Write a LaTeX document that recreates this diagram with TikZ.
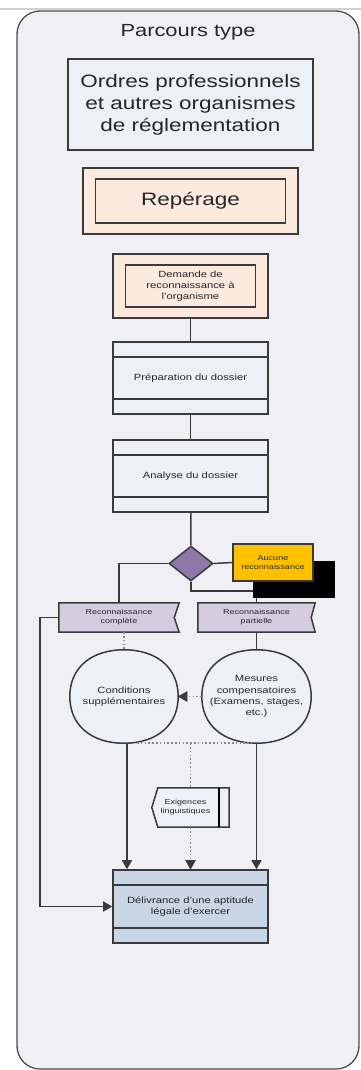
\documentclass[tikz,border=0pt]{standalone}
\usepackage{fontspec}
\setmainfont[FakeStretch=1.25]{Liberation Sans}
\usetikzlibrary{shapes.geometric,arrows.meta,calc}

\definecolor{panel}{HTML}{F0EFF4}
\definecolor{edge}{HTML}{3A3A3A}
\definecolor{pale}{HTML}{EDF1F7}
\definecolor{peach}{HTML}{FCEADF}
\definecolor{lavender}{HTML}{D4CDE0}
\definecolor{violet}{HTML}{8F78A9}
\definecolor{gold}{HTML}{FFC000}
\definecolor{steel}{HTML}{C8D6E6}
\definecolor{ink}{HTML}{262626}
\definecolor{dotgray}{HTML}{8A8A8A}

\newcommand\setsz[2]{\fontsize{#1}{#2}\selectfont}
% rounded "soft" outline through the four side midpoints of a node
\newcommand\softblob[1]{%
  \draw[draw=edge, line width=1.5, fill=pale]
    (#1.north) .. controls ($(#1.north)!0.61!(#1.north east)$) and ($(#1.east)!0.61!(#1.north east)$) .. (#1.east)
    .. controls ($(#1.east)!0.61!(#1.south east)$) and ($(#1.south)!0.61!(#1.south east)$) .. (#1.south)
    .. controls ($(#1.south)!0.61!(#1.south west)$) and ($(#1.west)!0.61!(#1.south west)$) .. (#1.west)
    .. controls ($(#1.west)!0.61!(#1.north west)$) and ($(#1.north)!0.61!(#1.north west)$) .. (#1.north) -- cycle;}

\tikzset{
  frame/.style={draw=edge, line width=1.6, inner sep=0, align=center, text=ink},
  bigtext/.style={font=\setsz{18}{22}},
  smalltext/.style={font=\setsz{9}{11.3}},
  tinytext/.style={font=\setsz{7.2}{9.2}},
  link/.style={draw=edge, line width=1.5},
  arrowlink/.style={link, -{Triangle[length=9pt,width=10pt]}},
  dotlink/.style={draw=dotgray, line width=1.7, dash pattern=on 1.6 off 2.2},
  label/.style={inner sep=0, align=center, text=ink},
}

\begin{document}
\begin{tikzpicture}[x=1pt,y=-1pt]
\useasboundingbox (0,0) rectangle (361,1070);

% page rule and rounded panel
\draw[gray!35, line width=2] (0,9.5) -- (361,9.5);
\draw[draw=gray!60!black, fill=panel, line width=1.3, rounded corners=23]
  (17,11) rectangle (359,1069);

\node[label, font=\setsz{17.5}{21}] (title) at (188,32) {Parcours type};

% header boxes
\node[frame, fill=pale, bigtext, minimum width=245, minimum height=91]
  (ordres) at (190.5,104.5) {Ordres professionnels\\et autres organismes\\de réglementation};

\node[frame, fill=peach, minimum width=215, minimum height=66] (reperage) at (190.5,201) {};
\node[frame, fill=peach, bigtext, minimum width=190, minimum height=44] at (reperage) {Repérage};

% request box
\node[frame, fill=peach, minimum width=155, minimum height=64] (demande) at (190.5,286) {};
\node[frame, fill=peach, smalltext, minimum width=130, minimum height=42] at (demande)
  {Demande de\\reconnaissance à\\l’organisme};

% process boxes with bands
\node[frame, fill=pale, smalltext, minimum width=155, minimum height=72]
  (prep) at (190.5,378) {Préparation du dossier};
\node[frame, fill=pale, smalltext, minimum width=155, minimum height=72]
  (analyse) at (190.5,476) {Analyse du dossier};
\node[frame, fill=steel, smalltext, minimum width=155, minimum height=73]
  (delivrance) at (190.5,906.5) {Délivrance d’une aptitude\\légale d’exercer};
\foreach \b in {prep,analyse,delivrance}{
  \draw[edge, line width=1.5] ([yshift=-16]\b.north west) -- ([yshift=-16]\b.north east);
  \draw[edge, line width=1.5] ([yshift=16]\b.south west) -- ([yshift=16]\b.south east);
}

% decision
\node[draw=edge, line width=1.5, fill=violet, shape=diamond, inner sep=0,
  minimum width=44, minimum height=35] (dia) at (191,563.5) {};

% recognition tags (notched right edge)
\node[label, minimum width=120, minimum height=29] (complete) at (119,617.5) {};
\node[label, minimum width=117, minimum height=29] (partielle) at (256.5,617.5) {};
\foreach \t/\d in {complete/5,partielle/4}{
  \draw[draw=edge, line width=1.5, fill=lavender]
    (\t.north west) -- (\t.north east) -- ([xshift=-\d]\t.east) -- (\t.south east)
    -- (\t.south west) -- cycle;
}
\node[label, tinytext] at (complete) {Reconnaissance\\complète};
\node[label, tinytext] at (partielle) {Reconnaissance\\partielle};

% outcome shapes
\node[label, minimum width=108, minimum height=93] (conditions) at (124,696.5) {};
\node[label, minimum width=109, minimum height=93] (mesures) at (256.5,696.5) {};
\softblob{conditions}
\softblob{mesures}
\node[label, smalltext] at (conditions) {Conditions\\supplémentaires};
\node[label, smalltext] at (mesures) {Mesures\\compensatoires\\(Examens, stages,\\etc.)};

% language requirement display shape
\node[label, minimum width=77, minimum height=39] (exig) at (190.5,807.5) {};
\draw[draw=edge, line width=1.5, fill=pale]
  ([xshift=6]exig.north west) -- (exig.north east) -- (exig.south east)
  -- ([xshift=6]exig.south west) -- (exig.west) -- cycle;
\draw[draw=black, line width=1.5] ([xshift=-10]exig.north east) -- ([xshift=-10]exig.south east);
\node[label, tinytext] at ([xshift=-5]exig.center) {Exigences\\linguistiques};

% flow connectors
\draw[link] (demande) -- (prep);
\draw[link] (prep) -- (analyse);
\draw[link] (analyse) -- (dia.north);
\draw[link] (dia.west) -| (complete.north);
\draw[link] (dia.south) -- ++(0,9) -| (partielle.north);
\draw[link] (partielle.south) -- (mesures.north);
\draw[dotlink] (conditions.north |- complete.south) -- (conditions.north);

% no recognition: shadow then box
\node[fill=black, minimum width=82, minimum height=37, inner sep=0] (shadow) at (294,579.5) {};
\node[frame, line width=1.5, fill=gold, tinytext, minimum width=80, minimum height=37]
  (aucune) at (273,562.5) {Aucune\\reconnaissance};
\draw[link] (dia.east) -- (aucune.west);

% toward the final box
\draw[arrowlink] (complete.west) -- ++(-19,0) |- (delivrance.west);
\draw[dotlink] (mesures.west) -- ([xshift=8]conditions.east);
\draw[draw=edge, fill=edge] (conditions.east) -- ++(9,-5) -- ++(0,10) -- cycle;
\draw[arrowlink] ([xshift=3]conditions.south) -- ([xshift=3]conditions.south |- delivrance.north);
\draw[arrowlink] (mesures.south) -- (mesures.south |- delivrance.north);
\draw[dotlink] ([xshift=13]conditions.south) -- ([xshift=-5]mesures.south);
\draw[dotlink] (exig.north |- conditions.south) -- (exig.north);
\draw[dotlink] (exig.south) -- ([yshift=9]delivrance.north);
\draw[draw=edge, fill=edge] (delivrance.north) -- ++(-5,-9) -- ++(10,0) -- cycle;
\end{tikzpicture}
\end{document}
